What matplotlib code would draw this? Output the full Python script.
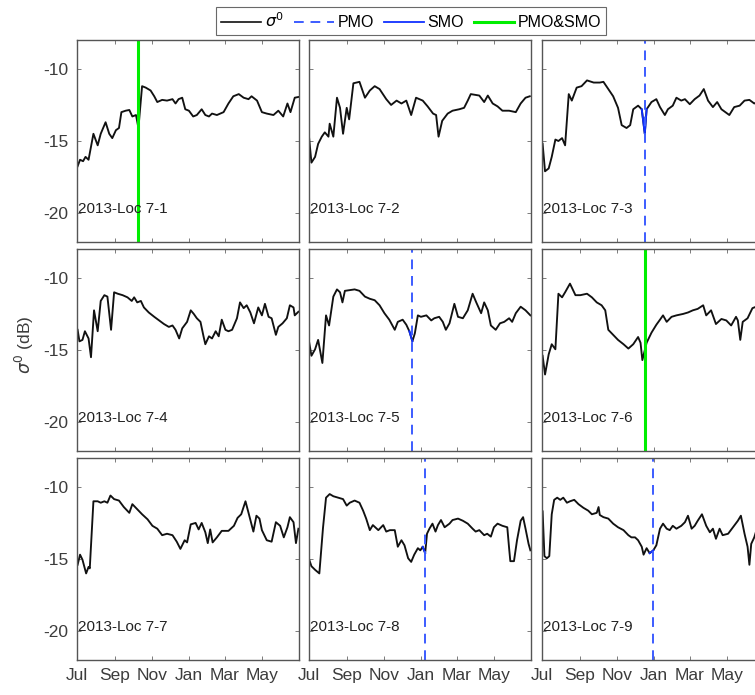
import matplotlib.pyplot as plt
from matplotlib.lines import Line2D

plt.rcParams['font.family'] = ['Liberation Sans', 'DejaVu Sans']

# days since 1 Jul 2013, sigma0 in dB
day_1 = [1, 5, 10, 14, 19, 27, 34, 39, 47, 53, 58, 64, 69, 73, 80, 86, 91, 97, 101, 107, 113, 121, 127, 132,
         140, 148, 157, 162, 167, 173, 178, 184, 191, 197, 205, 211, 217, 222, 230, 241, 249, 257, 266, 274,
         282, 287, 296, 304, 312, 323, 331, 339, 346, 351, 358, 364]
sig_1 = [-16.75, -16.3, -16.4, -16.1, -16.3, -14.5, -15.3, -14.5, -13.7, -14.5, -14.8, -14.25, -14.1, -13.0,
         -12.9, -12.85, -13.3, -13.2, -14.1, -11.2, -11.3, -11.5, -11.9, -12.3, -12.15, -12.2, -12.1, -12.4,
         -12.1, -12.0, -12.8, -12.9, -13.3, -13.2, -12.8, -13.2, -13.3, -13.1, -13.2, -13.0, -12.4, -11.9,
         -11.75, -12.0, -12.1, -11.9, -12.2, -13.0, -13.1, -13.2, -12.9, -13.3, -12.4, -13.0, -12.0, -11.95]

day_2 = [0, 4, 10, 15, 21, 26, 32, 34, 40, 46, 51, 56, 62, 66, 73, 83, 92, 100, 108, 116, 127, 135, 144, 152,
         160, 168, 176, 187, 195, 204, 209, 213, 219, 228, 236, 247, 255, 261, 266, 280, 288, 294, 302, 310,
         318, 329, 340, 348, 356, 363]
sig_2 = [-14.7, -16.5, -16.1, -15.2, -14.7, -14.4, -14.7, -13.8, -14.7, -12.0, -12.7, -14.5, -12.7, -13.5,
         -11.0, -10.9, -12.0, -11.5, -11.2, -11.4, -12.1, -12.5, -12.2, -12.4, -12.2, -13.2, -12.0, -12.2,
         -12.6, -13.1, -13.2, -14.7, -13.6, -13.1, -12.9, -12.8, -12.7, -12.2, -11.75, -11.85, -12.3, -11.85,
         -12.4, -12.6, -12.9, -12.9, -13.0, -12.4, -12.0, -11.9]

day_3 = [1, 5, 11, 16, 22, 27, 33, 38, 44, 49, 53, 57, 65, 74, 85, 95, 101, 109, 117, 125, 131, 139, 145, 150,
         158, 164, 169, 172, 180, 188, 194, 202, 207, 215, 221, 229, 235, 243, 251, 259, 266, 273, 281, 288,
         295, 308, 316, 325, 333, 341, 349, 358, 364]
sig_3 = [-15.2, -17.1, -16.9, -16.1, -14.9, -15.0, -14.8, -15.3, -11.75, -12.2, -11.75, -11.3, -11.2, -10.8,
         -10.95, -10.95, -10.9, -11.4, -11.9, -12.7, -13.9, -14.1, -13.9, -12.8, -12.55, -12.8, -14.5, -12.8,
         -12.3, -12.1, -12.65, -13.2, -12.8, -12.55, -12.0, -12.2, -12.1, -12.45, -12.1, -11.85, -11.4,
         -12.2, -12.65, -12.3, -12.8, -13.2, -12.65, -12.55, -12.2, -12.15, -12.4, -12.2, -12.3]

day_4 = [1, 4, 9, 13, 19, 23, 28, 34, 39, 45, 50, 56, 61, 67, 75, 83, 90, 94, 99, 105, 110, 118, 127, 135,
         143, 151, 157, 162, 168, 173, 181, 187, 192, 197, 203, 208, 211, 217, 222, 228, 233, 238, 244, 249,
         255, 263, 268, 274, 279, 285, 291, 298, 304, 309, 315, 320, 327, 331, 338, 345, 350, 356, 358, 364]
sig_4 = [-13.6, -14.4, -14.3, -13.7, -14.2, -15.5, -12.25, -13.7, -11.6, -11.2, -11.3, -13.6, -11.0, -11.1,
         -11.2, -11.35, -11.6, -11.35, -11.7, -11.6, -12.05, -12.4, -12.7, -12.95, -13.2, -13.4, -13.3, -13.6,
         -14.2, -13.5, -13.05, -12.25, -12.5, -12.8, -13.05, -14.05, -14.6, -14.05, -14.2, -13.7, -14.05,
         -12.9, -13.6, -13.7, -13.6, -12.8, -11.7, -12.1, -11.9, -12.4, -13.15, -12.05, -12.6, -11.8, -12.7,
         -12.8, -13.95, -13.4, -13.15, -12.8, -11.9, -12.05, -12.6, -12.35]

day_5 = [0, 4, 10, 15, 22, 28, 33, 40, 46, 51, 55, 59, 67, 75, 83, 92, 100, 108, 116, 124, 132, 141, 146, 154,
         160, 165, 170, 174, 179, 184, 193, 201, 206, 214, 220, 225, 231, 239, 245, 253, 261, 269, 275, 283,
         288, 294, 299, 307, 314, 321, 329, 334, 340, 348, 356, 364]
sig_5 = [-14.4, -15.4, -14.95, -14.3, -15.9, -12.6, -13.3, -11.3, -10.8, -11.0, -11.7, -10.9, -10.85, -10.8,
         -10.9, -11.3, -11.45, -11.55, -11.9, -12.45, -12.9, -13.6, -13.05, -12.9, -13.25, -13.7, -14.4,
         -13.85, -12.6, -12.7, -12.6, -12.95, -12.8, -12.7, -13.05, -13.6, -13.15, -11.8, -12.7, -12.8,
         -12.25, -11.1, -11.7, -12.45, -11.7, -12.25, -13.3, -13.6, -13.15, -13.05, -12.8, -13.05, -12.45,
         -12.0, -12.25, -12.6]

day_6 = [1, 5, 11, 16, 22, 27, 33, 38, 46, 55, 63, 74, 82, 90, 98, 104, 109, 117, 125, 134, 142, 150, 158,
         162, 165, 172, 180, 188, 194, 199, 205, 213, 221, 232, 240, 248, 256, 265, 270, 278, 286, 295, 303,
         311, 319, 322, 326, 330, 338, 346, 352, 364]
sig_6 = [-15.4, -16.7, -15.3, -14.6, -14.95, -11.1, -11.35, -11.0, -10.4, -11.2, -11.2, -11.1, -11.35, -11.7,
         -11.9, -12.25, -13.6, -13.95, -14.3, -14.6, -14.9, -14.6, -14.1, -14.5, -15.7, -14.5, -13.8, -13.25,
         -12.9, -12.6, -13.05, -12.7, -12.6, -12.5, -12.4, -12.25, -12.15, -11.9, -12.6, -12.25, -13.2,
         -12.85, -12.95, -13.3, -12.7, -12.95, -14.3, -13.05, -12.8, -12.1, -12.0, -12.1]

day_7 = [1, 5, 9, 15, 19, 21, 27, 34, 39, 45, 50, 55, 61, 69, 77, 86, 91, 99, 107, 116, 124, 132, 140, 148,
         157, 164, 170, 177, 181, 187, 195, 200, 205, 211, 215, 219, 223, 230, 238, 249, 258, 264, 270, 277,
         282, 286, 290, 295, 300, 304, 312, 320, 327, 334, 340, 346, 350, 356, 360, 364]
sig_7 = [-15.4, -14.7, -15.05, -16.0, -15.55, -15.65, -11.0, -11.0, -11.1, -11.0, -11.1, -10.6, -10.85,
         -10.95, -11.4, -11.8, -11.2, -11.55, -11.9, -12.25, -12.7, -12.9, -13.35, -13.25, -13.35, -13.8,
         -14.3, -13.7, -13.85, -12.6, -12.5, -12.95, -12.5, -13.15, -13.9, -12.95, -13.85, -13.5, -13.05,
         -13.05, -12.7, -12.15, -11.9, -11.0, -11.8, -12.45, -13.1, -12.0, -12.2, -13.0, -13.7, -13.8,
         -12.45, -12.7, -13.5, -12.8, -12.1, -12.45, -13.9, -12.9]

day_8 = [0, 4, 10, 17, 23, 28, 34, 40, 48, 56, 62, 67, 75, 83, 89, 94, 100, 105, 114, 122, 127, 133, 141, 146,
         152, 157, 163, 168, 173, 179, 183, 187, 191, 194, 198, 203, 208, 212, 217, 223, 231, 236, 245, 253,
         261, 269, 274, 280, 288, 293, 299, 304, 310, 318, 326, 329, 331, 337, 342, 348, 352, 356, 361, 364]
sig_8 = [-15.0, -15.5, -15.75, -16.0, -12.85, -10.75, -10.5, -10.65, -10.75, -10.85, -11.3, -11.1, -10.95,
         -11.1, -11.65, -12.2, -13.0, -12.65, -13.0, -12.65, -13.1, -13.0, -13.0, -14.15, -13.7, -14.05,
         -14.95, -15.2, -14.7, -14.25, -14.4, -14.15, -14.6, -13.25, -12.9, -12.55, -13.1, -12.65, -12.3,
         -12.8, -12.55, -12.3, -12.2, -12.35, -12.55, -12.9, -13.1, -13.0, -13.35, -13.25, -13.45, -12.8,
         -12.55, -12.7, -12.8, -14.25, -15.15, -15.15, -13.7, -12.35, -12.1, -12.9, -13.95, -14.4]

day_9 = [1, 4, 8, 12, 16, 20, 25, 30, 35, 41, 46, 53, 60, 68, 76, 82, 90, 93, 95, 101, 109, 117, 125, 134, 142,
         147, 153, 158, 164, 167, 172, 177, 183, 188, 194, 199, 205, 210, 215, 221, 229, 235, 240, 246, 251,
         256, 263, 270, 276, 281, 286, 292, 297, 306, 314, 322, 327, 333, 338, 341, 344, 349, 357, 364]
sig_9 = [-11.7, -14.8, -14.95, -14.8, -11.9, -10.9, -10.75, -10.9, -10.75, -11.1, -11.0, -10.9, -11.2, -11.45,
         -11.65, -11.9, -11.8, -11.4, -11.95, -12.1, -12.2, -12.55, -12.8, -13.0, -13.35, -13.5, -13.5,
         -13.7, -14.15, -14.7, -14.25, -14.6, -14.4, -14.05, -12.9, -12.55, -12.9, -13.0, -12.7, -12.9,
         -12.7, -12.45, -12.0, -12.9, -12.7, -12.35, -11.9, -12.7, -13.15, -12.9, -13.6, -12.9, -13.35,
         -13.25, -12.8, -12.35, -12.0, -13.25, -14.15, -15.4, -13.95, -13.5, -12.4, -12.1]

day_list = [day_1, day_2, day_3, day_4, day_5, day_6, day_7, day_8, day_9]
sig_list = [sig_1, sig_2, sig_3, sig_4, sig_5, sig_6, sig_7, sig_8, sig_9]
site_names = ['2013-Loc 7-1', '2013-Loc 7-2', '2013-Loc 7-3', '2013-Loc 7-4', '2013-Loc 7-5',
              '2013-Loc 7-6', '2013-Loc 7-7', '2013-Loc 7-8', '2013-Loc 7-9']

# onset day per panel (None = not detected)
pmo_day = [None, None, 169, None, 170, None, None, 191, 183]
smo_seg = [None, None, (164, 172), None, (165, 170), None, None, (187, 191), (177, 183)]
both_day = [101, None, None, None, None, 169, None, None, None]

tick_days = [0, 62, 123, 184, 243, 304]
tick_names = ['Jul', 'Sep', 'Nov', 'Jan', 'Mar', 'May']

fig = plt.figure(figsize=(7.55, 6.95), dpi=100)
W, H = 755, 695
col_x = [77, 309, 542]
row_y = [40, 249, 458]
aw, ah = 222, 202

gray = '#3c3c3c'
blue = '#3c5cff'

for i in range(9):
    r, c = divmod(i, 3)
    ax = fig.add_axes([col_x[c] / W, 1 - (row_y[r] + ah) / H, aw / W, ah / H])
    d = day_list[i]
    s = sig_list[i]
    ax.plot(d, s, color='#111111', lw=1.35, solid_joinstyle='round')
    if smo_seg[i] is not None:
        a, b = smo_seg[i]
        sd = [x for x in d if a <= x <= b]
        ss = [y for x, y in zip(d, s) if a <= x <= b]
        ax.plot(sd, ss, color='#1030ff', lw=1.35)
    if pmo_day[i] is not None:
        ax.axvline(pmo_day[i], color=blue, lw=1.4, dashes=(5, 3.5))
    if both_day[i] is not None:
        ax.axvline(both_day[i], color='#00ee00', lw=2.2)
    ax.text(2, -19.7, site_names[i], fontsize=11, color='#222222', va='center', ha='left')
    ax.set_xlim(0, 365)
    ax.set_ylim(-22, -8)
    ax.set_xticks(tick_days)
    ax.set_yticks([-10, -15, -20])
    ax.tick_params(direction='in', top=True, right=True, length=3, width=0.6, pad=6,
                   colors='#666666', labelcolor=gray, labelsize=12.5)
    if c == 0:
        ax.set_yticklabels(['-10', '-15', '-20'])
    else:
        ax.set_yticklabels([])
    if r == 2:
        ax.set_xticklabels(tick_names)
    else:
        ax.set_xticklabels([])
    for sp in ax.spines.values():
        sp.set_color('#555555')
        sp.set_linewidth(1.0)

fig.text(24 / W, 1 - 345 / H, r'$\sigma^0$ (dB)', rotation=90, fontsize=12.5, color=gray,
         ha='center', va='center')

handles = [Line2D([], [], color='#111111', lw=1.2),
           Line2D([], [], color=blue, lw=1.4, dashes=(5, 3.5)),
           Line2D([], [], color='#1030ff', lw=1.3),
           Line2D([], [], color='#00ee00', lw=2.2)]
labels = [r'$\sigma^0$', 'PMO', 'SMO', 'PMO&SMO']
leg = fig.legend(handles, labels, loc='center', bbox_to_anchor=(411 / W, 1 - 21 / H), ncol=4,
                 fontsize=11.5, frameon=True, fancybox=False, handlelength=2.5, handletextpad=0.25,
                 columnspacing=0.6, borderpad=0.3)
leg.get_frame().set_edgecolor('#444444')
leg.get_frame().set_linewidth(0.8)

fig.savefig('out.png', dpi=100)
